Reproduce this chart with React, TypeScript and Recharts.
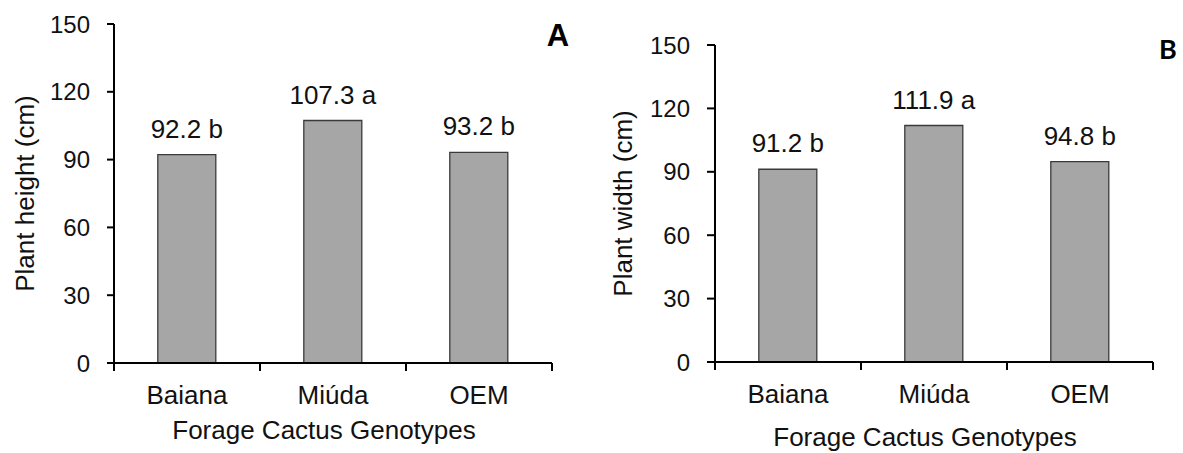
import React from 'react';
import { BarChart, Bar, XAxis, YAxis, LabelList } from 'recharts';

const categories = ['Baiana', 'Miúda', 'OEM'];
const heightValues = [92.2, 107.3, 93.2];
const heightLetters = ['b', 'a', 'b'];
const widthValues = [91.2, 111.9, 94.8];
const widthLetters = ['b', 'a', 'b'];
const yTicks = [0, 30, 60, 90, 120, 150];
const yDomain: [number, number] = [0, 150];
const xTitle = 'Forage Cactus Genotypes';

const FONT = "'Liberation Sans', Arial, sans-serif";

const buildRows = (values: number[], letters: string[]) =>
  categories.map((name, i) => ({
    name,
    value: values[i],
    label: `${values[i].toFixed(1)} ${letters[i]}`,
  }));

const heightRows = buildRows(heightValues, heightLetters);
const widthRows = buildRows(widthValues, widthLetters);

const TICK_MARGIN_X = 23;
const X_TICK_LEN = 8;

const XTick = (props: any) => {
  const { x, y, payload, index } = props;
  const half = payload && payload.offset ? payload.offset : 0;
  const axisY = y - TICK_MARGIN_X;
  const isLast = index === categories.length - 1;
  return (
    <g>
      <line x1={x - half} x2={x - half} y1={axisY} y2={axisY + X_TICK_LEN} stroke="#000" strokeWidth={2} />
      {isLast && (
        <line x1={x + half} x2={x + half} y1={axisY} y2={axisY + X_TICK_LEN} stroke="#000" strokeWidth={2} />
      )}
      <text x={x} y={y} dy="0.71em" textAnchor="middle" fontSize={26} fontFamily={FONT} fill="#111">
        {payload.value}
      </text>
    </g>
  );
};

const YLabel = (props: any) => {
  const vb = props.viewBox || {};
  const cx = (vb.x || 0) + props.dx0;
  const cy = (vb.y || 0) + (vb.height || 0) / 2;
  return (
    <text
      x={cx}
      y={cy}
      transform={`rotate(-90, ${cx}, ${cy})`}
      textAnchor="middle"
      dominantBaseline="central"
      fontSize={26}
      fontFamily={FONT}
      fill="#111"
    >
      {props.text}
    </text>
  );
};

const XLabel = (props: any) => {
  const vb = props.viewBox || {};
  const cx = (vb.x || 0) + (vb.width || 0) / 2 + props.shift;
  const cy = (vb.y || 0) + props.baseline;
  return (
    <text x={cx} y={cy} textAnchor="middle" fontSize={26} fontFamily={FONT} fill="#111">
      {props.text}
    </text>
  );
};

type PanelProps = {
  rows: any[];
  width: number;
  margin: any;
  yAxisWidth: number;
  yTickSize: number;
  yLabel: string;
  yLabelX: number;
  xTitleBaseline: number;
  xAxisHeight: number;
};

const Panel = ({ rows, width, margin, yAxisWidth, yTickSize, yLabel, yLabelX, xTitleBaseline, xAxisHeight }: PanelProps) => (
  <BarChart width={width} height={453} data={rows} margin={margin} barCategoryGap="30%">
    <XAxis
      dataKey="name"
      height={xAxisHeight}
      axisLine={{ stroke: '#000', strokeWidth: 2 }}
      tickLine={false}
      tickSize={0}
      tickMargin={TICK_MARGIN_X}
      tick={<XTick />}
      interval={0}
      label={<XLabel text={xTitle} baseline={xTitleBaseline} shift={-9} />}
    />
    <YAxis
      width={yAxisWidth}
      domain={yDomain}
      ticks={yTicks}
      interval={0}
      axisLine={{ stroke: '#000', strokeWidth: 2 }}
      tickLine={{ stroke: '#000', strokeWidth: 2 }}
      tickSize={yTickSize}
      tickMargin={17}
      tick={{ fill: '#111', fontSize: 24, fontFamily: FONT }}
      label={<YLabel text={yLabel} dx0={yLabelX} />}
    />
    <Bar dataKey="value" fill="#a6a6a6" stroke="#3a3a3a" strokeWidth={1.3} isAnimationActive={false}>
      <LabelList dataKey="label" position="top" offset={17} fill="#111" fontSize={26} fontFamily={FONT} />
    </Bar>
  </BarChart>
);

export default function App() {
  return (
    <div style={{ position: 'absolute', left: 0, top: 0, width: 1183, height: 453, background: '#fff', fontFamily: FONT }}>
      <div style={{ position: 'absolute', left: 0, top: 0 }}>
        <Panel
          rows={heightRows}
          width={600}
          margin={{ top: 24, right: 48, left: 0, bottom: 0 }}
          yAxisWidth={114}
          yTickSize={7}
          yLabel="Plant height (cm)"
          yLabelX={25}
          xTitleBaseline={76}
          xAxisHeight={90}
        />
      </div>
      <div style={{ position: 'absolute', left: 600, top: 0 }}>
        <Panel
          rows={widthRows}
          width={583}
          margin={{ top: 45, right: 30, left: 0, bottom: 0 }}
          yAxisWidth={115}
          yTickSize={8}
          yLabel="Plant width (cm)"
          yLabelX={23}
          xTitleBaseline={84}
          xAxisHeight={91}
        />
      </div>
      <svg width={1183} height={453} style={{ position: 'absolute', left: 0, top: 0, pointerEvents: 'none' }}>
        <text x={558} y={46} textAnchor="middle" fontSize={31} fontWeight="bold" fontFamily={FONT} fill="#000">A</text>
        <text x={1168} y={59} textAnchor="middle" fontSize={27} fontWeight="bold" fontFamily="Lato, 'Open Sans', sans-serif" fill="#000">B</text>
      </svg>
    </div>
  );
}
